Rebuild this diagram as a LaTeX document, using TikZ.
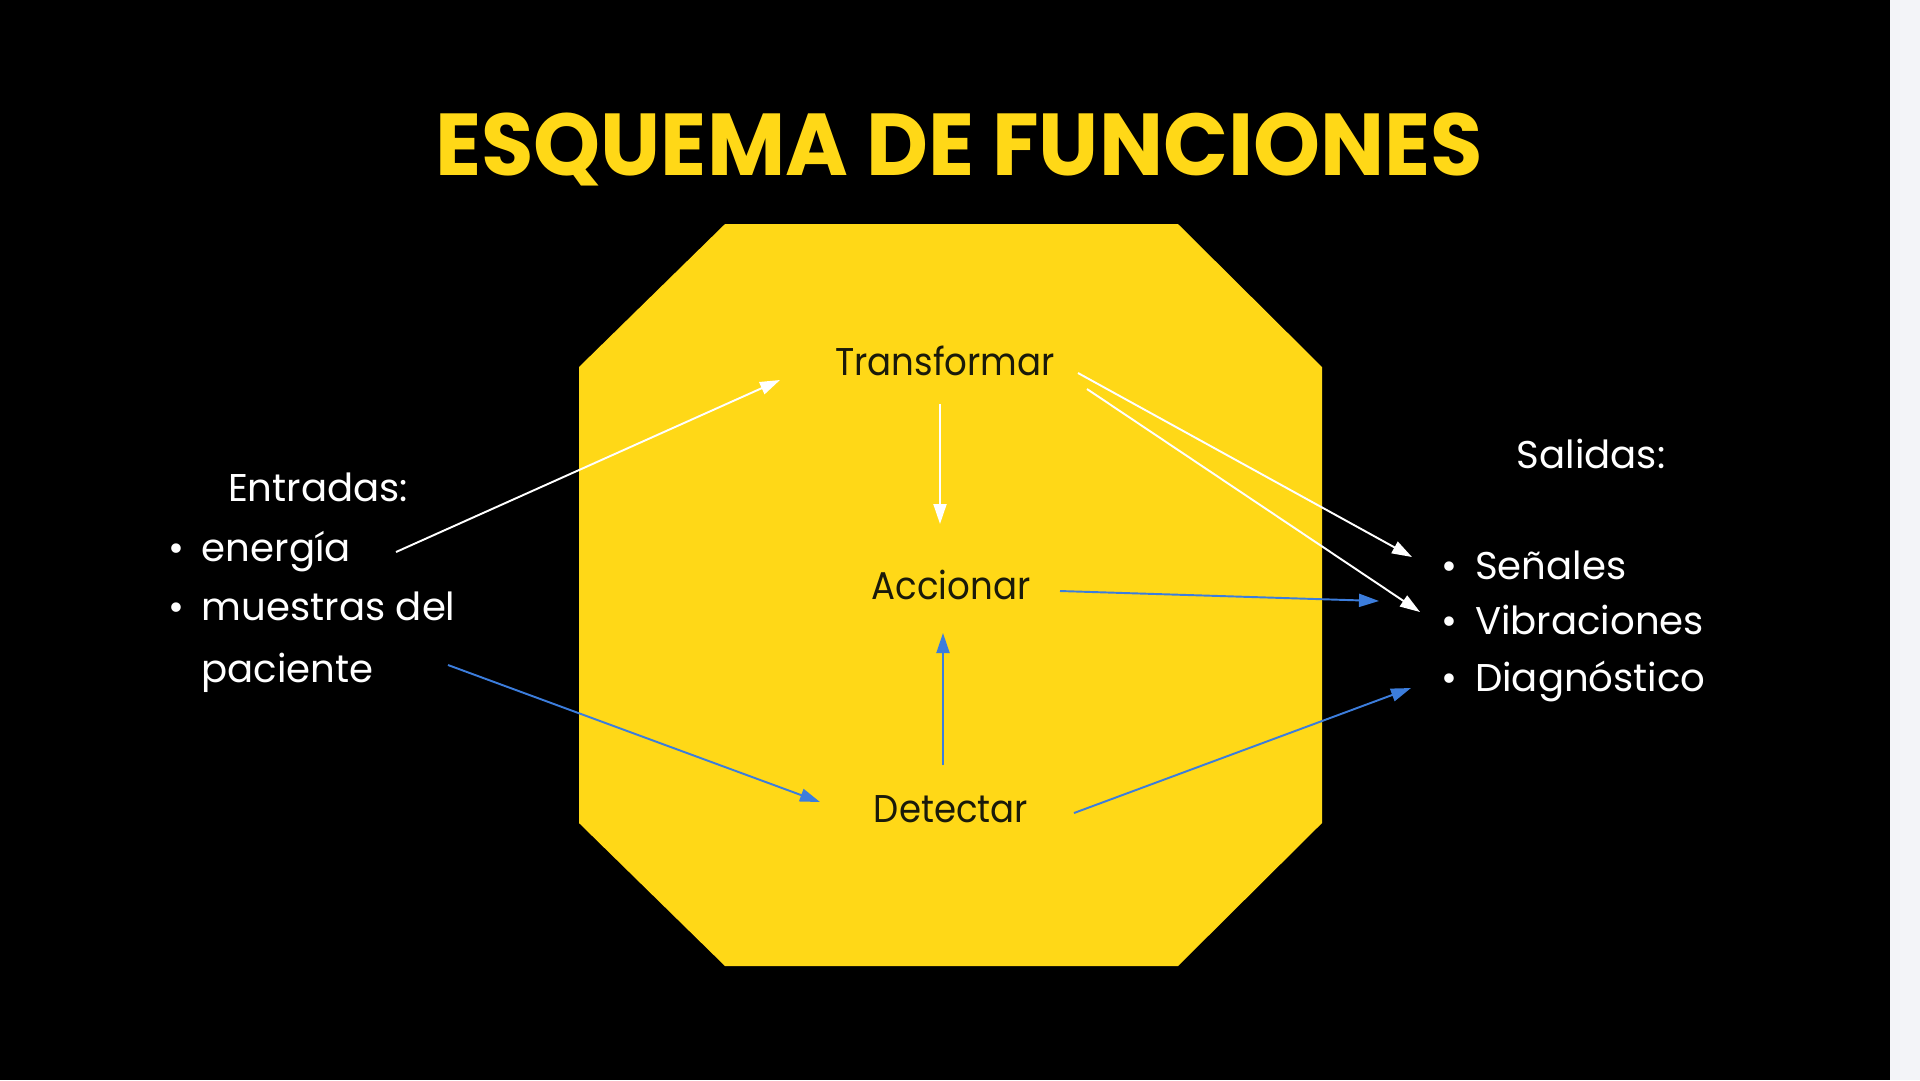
\documentclass[tikz,border=0pt]{standalone}
\usepackage{fontspec}
\setmainfont{Poppins}
\usetikzlibrary{arrows.meta}
\definecolor{octyellow}{HTML}{FFD817}
\definecolor{flowblue}{HTML}{3C7DDC}
\definecolor{sidebar}{HTML}{F3F4F8}
\definecolor{inktext}{HTML}{1A1A0A}
\newcommand{\narrow}[1]{\scalebox{0.92}[1]{#1}}
\tikzset{
  titletext/.style={text=octyellow, inner sep=0, anchor=base,
    font=\fontsize{25}{30}\bfseries\selectfont},
  sidetext/.style={text=white, inner sep=0,
    font=\fontsize{11}{14}\selectfont},
  steptext/.style={text=inktext, inner sep=0, anchor=base,
    font=\fontsize{11}{14}\selectfont},
  flow/.style={line width=0.55pt, -{Triangle[length=2mm, width=1.3mm]}},
  whiteflow/.style={flow, draw=white, fill=white},
  blueflow/.style={flow, draw=flowblue, fill=flowblue},
}
\begin{document}
\begin{tikzpicture}[x=0.1mm, y=-0.1mm]
  % canvas: black slide with a light strip on the right
  \fill[black] (0,0) rectangle (1890,1080);
  \fill[sidebar] (1890,0) rectangle (1920,1080);
  \useasboundingbox (0,0) rectangle (1920,1080);

  % title
  \node[titletext] (title) at (959,175) {\scalebox{0.97}[1]{ESQUEMA DE FUNCIONES}};

  % central octagon
  \fill[octyellow] (725,224) -- (1178,224) -- (1322,367) -- (1322,823)
    -- (1178,966) -- (725,966) -- (579,823) -- (579,367) -- cycle;

  % functions
  \node[steptext] (transformar) at (945,375) {\narrow{Transformar}};
  \node[steptext] (accionar)    at (951,599) {\narrow{Accionar}};
  \node[steptext] (detectar)    at (951,822) {\narrow{Detectar}};

  % inputs
  \node[sidetext, anchor=base] (entradas) at (318,501) {Entradas:};
  \node[sidetext, anchor=base west] (energia) at (168,561) {\textbullet\hspace{0.45em}energía};
  \node[sidetext, anchor=base west] (muestras) at (168,620) {\textbullet\hspace{0.45em}muestras del};
  \node[sidetext, anchor=base west] (paciente) at (201,682) {paciente};

  % outputs
  \node[sidetext, anchor=base] (salidas) at (1591,468) {Salidas:};
  \node[sidetext, anchor=base west] (senales) at (1441,579) {\textbullet\hspace{0.45em}Señales};
  \node[sidetext, anchor=base west] (vibraciones) at (1441,634) {\textbullet\hspace{0.45em}Vibraciones};
  \node[sidetext, anchor=base west] (diagnostico) at (1441,691) {\textbullet\hspace{0.45em}Diagnóstico};

  % connector end points
  \coordinate (energia-out) at (396,552);
  \coordinate (transformar-in) at (780,380);
  \coordinate (transformar-down) at (940,404);
  \coordinate (accionar-top) at (940,524);
  \coordinate (transformar-out1) at (1078,373);
  \coordinate (transformar-out2) at (1087,389);
  \coordinate (senales-in) at (1412,557);
  \coordinate (vibraciones-in) at (1420,612);
  \coordinate (paciente-out) at (448,665);
  \coordinate (detectar-in) at (820,802);
  \coordinate (detectar-up) at (943,765);
  \coordinate (accionar-bottom) at (943,633);
  \coordinate (accionar-out) at (1060,591);
  \coordinate (vibraciones-in2) at (1379,601);
  \coordinate (detectar-out) at (1074,813);
  \coordinate (diagnostico-in) at (1411,688);

  % white connectors
  \draw[whiteflow] (energia-out) -- (transformar-in);
  \draw[whiteflow] (transformar-down) -- (accionar-top);
  \draw[whiteflow] (transformar-out1) -- (senales-in);
  \draw[whiteflow] (transformar-out2) -- (vibraciones-in);

  % blue connectors
  \draw[blueflow] (paciente-out) -- (detectar-in);
  \draw[blueflow] (detectar-up) -- (accionar-bottom);
  \draw[blueflow] (accionar-out) -- (vibraciones-in2);
  \draw[blueflow] (detectar-out) -- (diagnostico-in);
\end{tikzpicture}
\end{document}
